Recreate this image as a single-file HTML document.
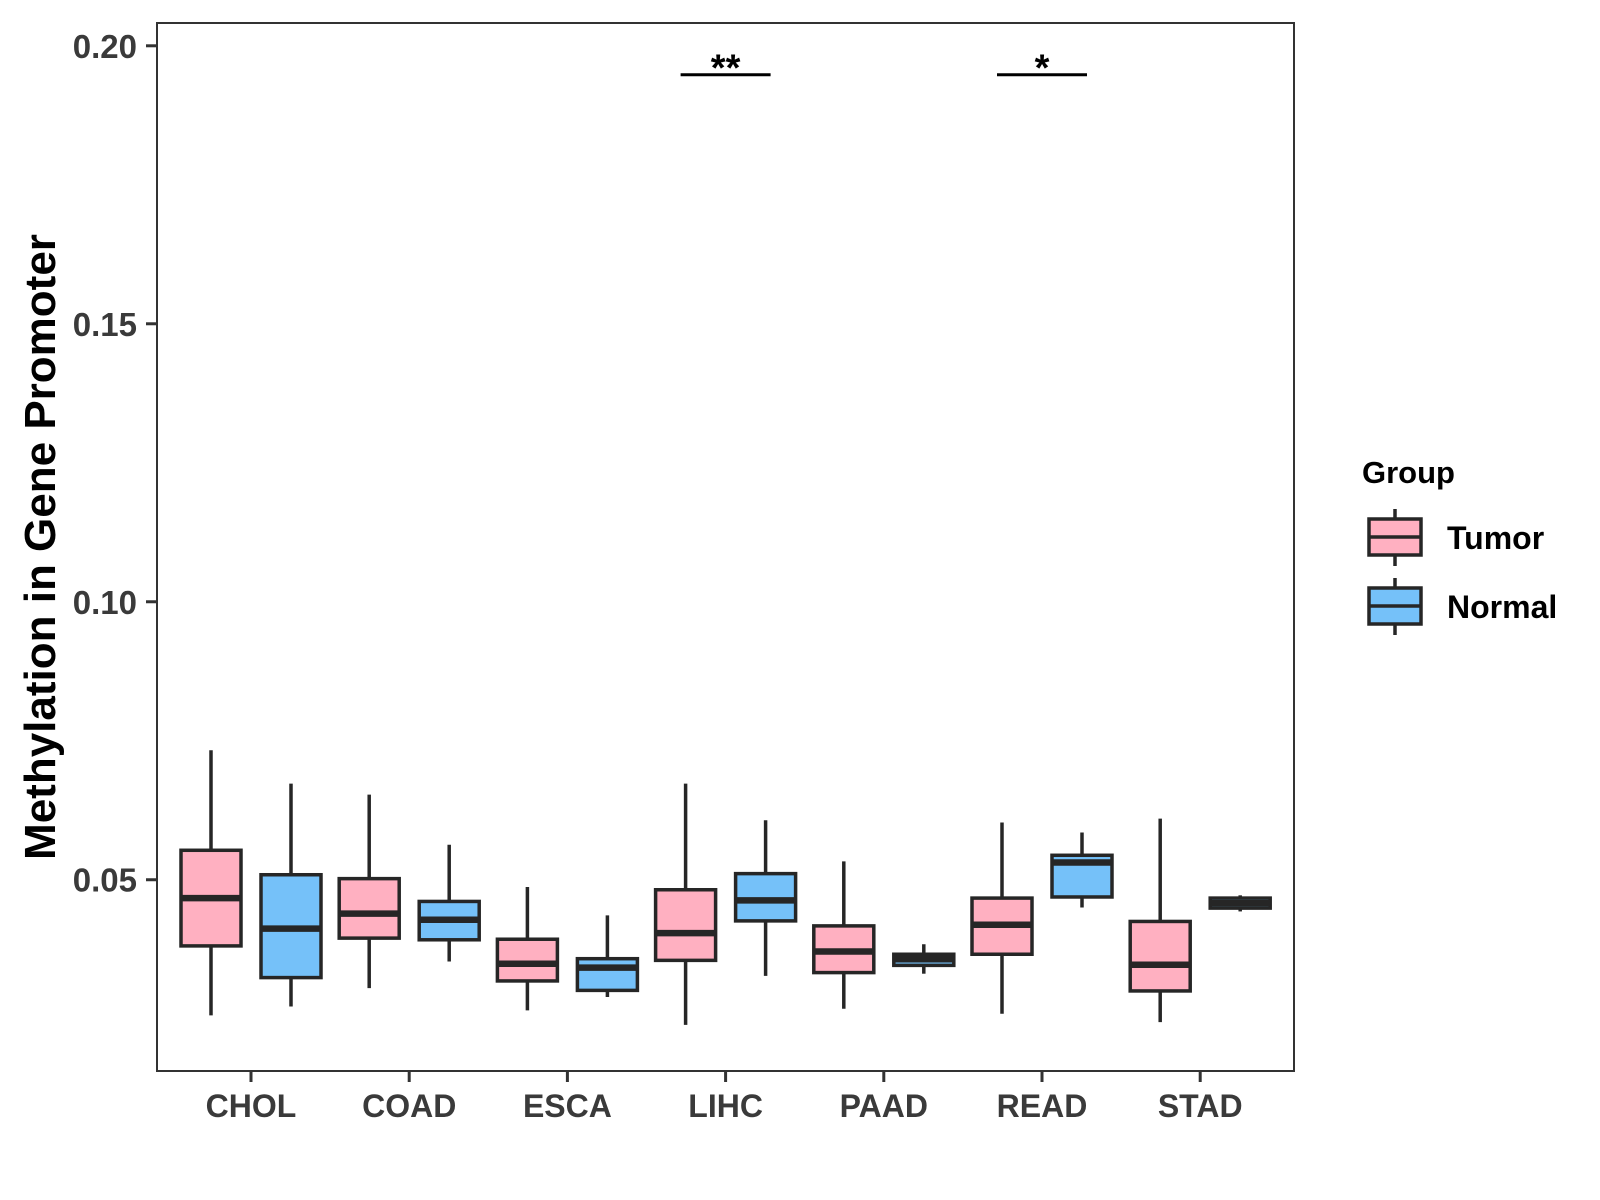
<!DOCTYPE html>
<html><head><meta charset="utf-8"><style>
body{margin:0;background:#fff}
svg{display:block;font-family:"Liberation Sans",Arial,sans-serif;font-weight:bold}
</style></head><body>
<svg id="chart" width="1600" height="1200" viewBox="0 0 1600 1200">
<rect x="0" y="0" width="1600" height="1200" fill="#fff"/>
<g id="plot"></g>
<rect x="157" y="23" width="1137" height="1048" fill="none" stroke="#333" stroke-width="2"/>
<text x="0" y="0" transform="translate(55,547) rotate(-90)" text-anchor="middle" font-size="44" fill="#000">Methylation in Gene Promoter</text>
<g>
<text x="1362" y="483" font-size="31" fill="#000">Group</text>
<g>
<line x1="1395" y1="509" x2="1395" y2="566" stroke="#262626" stroke-width="3.5"/>
<rect x="1369" y="519" width="52" height="36" fill="#FFB0C1" stroke="#262626" stroke-width="3.5"/>
<line x1="1369" y1="537" x2="1421" y2="537" stroke="#262626" stroke-width="3.5"/>
<text x="1447" y="549" font-size="32" fill="#000">Tumor</text>
</g>
<g>
<line x1="1395" y1="578" x2="1395" y2="635" stroke="#262626" stroke-width="3.5"/>
<rect x="1369" y="588" width="52" height="36" fill="#75C1F9" stroke="#262626" stroke-width="3.5"/>
<line x1="1369" y1="606" x2="1421" y2="606" stroke="#262626" stroke-width="3.5"/>
<text x="1447" y="618" font-size="32" fill="#000">Normal</text>
</g>
</g>
</svg>
<script>
const categories = ["CHOL","COAD","ESCA","LIHC","PAAD","READ","STAD"];
// [lowerWhisker, q1, median, q3, upperWhisker]
const tumorStats = [
 [0.0256,0.0381,0.0467,0.0553,0.0733],
 [0.0305,0.0395,0.0439,0.0502,0.0653],
 [0.0265,0.0318,0.0349,0.0393,0.0487],
 [0.0239,0.0355,0.0404,0.0482,0.0673],
 [0.0268,0.0333,0.0371,0.0417,0.0533],
 [0.0259,0.0366,0.0419,0.0467,0.0603],
 [0.0244,0.0300,0.0347,0.0425,0.0610]
];
const normalStats = [
 [0.0272,0.0324,0.0412,0.0509,0.0673],
 [0.0353,0.0392,0.0428,0.0461,0.0563],
 [0.0289,0.0301,0.0342,0.0358,0.0436],
 [0.0327,0.0426,0.0463,0.0511,0.0607],
 [0.0331,0.0346,0.0357,0.0366,0.0384],
 [0.0450,0.0469,0.0531,0.0544,0.0585],
 [0.0443,0.0449,0.0458,0.0467,0.0472]
];
const yTicks = [0.05,0.10,0.15,0.20];
const yTickLabels = ["0.05","0.10","0.15","0.20"];
const sigCategories = ["LIHC","READ"];
const sigLabels = ["**","*"];
const sigLevel = 0.1948;

const NS="http://www.w3.org/2000/svg";
const plotG=document.getElementById('plot');
const svgEl=document.getElementById('chart');
const yMin=0.0156, yMax=0.2041, pTop=23, pBottom=1071;
function yScale(v){return pBottom-(v-yMin)/(yMax-yMin)*(pBottom-pTop);}
function xScale(i){return 251+i*158.2;}
function mk(tag,attrs,parent){const e=document.createElementNS(NS,tag);for(const k in attrs)e.setAttribute(k,attrs[k]);(parent||plotG).appendChild(e);return e;}

yTicks.forEach((t,i)=>{
 const l=mk('line',{x1:146,x2:157,y1:yScale(t),y2:yScale(t),stroke:'#333','stroke-width':3},svgEl);
 
 
 const tx=mk('text',{x:137,y:yScale(t)+12,'text-anchor':'end','font-size':33,fill:'#3a3a3a'},svgEl);
 tx.textContent=yTickLabels[i];
 
 
});
categories.forEach((c,i)=>{
 const l=mk('line',{x1:xScale(i),x2:xScale(i),y1:1071,y2:1082,stroke:'#333','stroke-width':3},svgEl);
 
 
 const tx=mk('text',{x:xScale(i),y:1117,'text-anchor':'middle','font-size':32,fill:'#3a3a3a'},svgEl);
 tx.textContent=c;
 
 
});
function box(s,cx,fill,name){
 const g=mk('g',{});
 
 
 mk('line',{x1:cx,x2:cx,y1:yScale(s[0]),y2:yScale(s[4]),stroke:'#262626','stroke-width':3.5},g);
 mk('rect',{x:cx-30,y:yScale(s[3]),width:60,height:Math.max(1,yScale(s[1])-yScale(s[3])),fill:fill,stroke:'#262626','stroke-width':3.5},g);
 mk('line',{x1:cx-30,x2:cx+30,y1:yScale(s[2]),y2:yScale(s[2]),stroke:'#262626','stroke-width':6.5},g);
}
categories.forEach((c,i)=>{
 box(tumorStats[i],xScale(i)-40,'#FFB0C1','box-'+c.toLowerCase()+'-tumor');
 box(normalStats[i],xScale(i)+40,'#75C1F9','box-'+c.toLowerCase()+'-normal');
});
sigCategories.forEach((c,k)=>{
 const i=categories.indexOf(c);
 const l=mk('line',{x1:xScale(i)-45,x2:xScale(i)+45,y1:yScale(sigLevel),y2:yScale(sigLevel),stroke:'#000','stroke-width':3});
 
 
 const t=mk('text',{x:xScale(i),y:yScale(sigLevel)+6,'text-anchor':'middle','font-size':38,fill:'#000'});
 t.textContent=sigLabels[k];
 
 
});
</script>
</body></html>
